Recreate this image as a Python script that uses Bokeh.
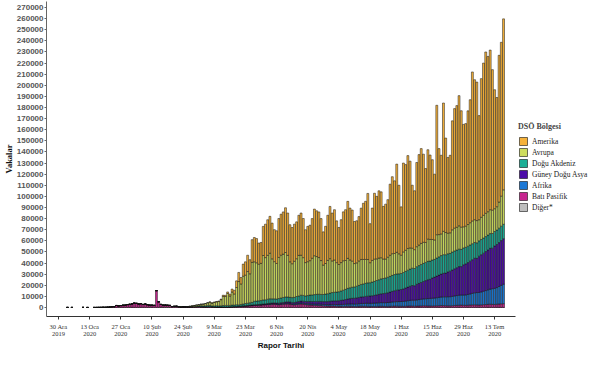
import pandas as pd
from bokeh.plotting import figure
from bokeh.layouts import row
from bokeh.models import (Range1d, FixedTicker, Legend, LegendItem,
                          NumeralTickFormatter, ColumnDataSource)
from bokeh.embed import file_html
from bokeh.resources import INLINE

# ---------------- data ----------------
region_names = ["Amerika", "Avrupa", "Doğu Akdeniz", "Güney Doğu Asya",
                "Afrika", "Batı Pasifik", "Diğer*"]
region_keys = ["amr", "eur", "emr", "sear", "afr", "wp", "diger"]
region_colors = ["#F6B23A", "#CEDD5E", "#1BAF96", "#4C0CA8",
                 "#1B78D6", "#C7258F", "#BEBEBE"]

tick_labels = ["30 Ara\n2019", "13 Oca\n2020", "27 Oca\n2020", "10 Şub\n2020",
               "24 Şub\n2020", "9 Mar\n2020", "23 Mar\n2020", "6 Nis\n2020",
               "20 Nis\n2020", "4 May\n2020", "18 May\n2020", "1 Haz\n2020",
               "15 Haz\n2020", "29 Haz\n2020", "13 Tem\n2020"]
first_tick = "2019-12-30"

# Western Pacific: a few isolated early reports, then daily from 15 Jan
wp_early_dates = ["2020-01-03", "2020-01-05", "2020-01-10", "2020-01-12"]
wp_early = [27, 17, 41, 2]
wp_start = "2020-01-15"
wp = [4, 17, 59, 77, 149, 131, 259, 444, 688, 769, 1771, 1459, 1737, 1982, 2102, 2590,
      2829, 3235, 3887, 3694, 3143, 3385, 2656, 3062, 2484, 2022, 2015, 1820, 15153, 5094,
      2644, 2009, 2051, 1891, 1751, 825, 1000, 1100, 650, 450, 530, 500, 430, 500, 580, 600,
      # March
      700, 800, 700, 600, 550, 650, 700, 600, 450, 400, 350, 330, 350, 400, 380, 420,
      500, 600, 650, 800, 900, 1100, 1200, 1300, 1500, 1600, 1800, 1900, 2000, 2100, 2300,
      # April
      2400, 2600, 2700, 2900, 3000, 2700, 2500, 2800, 2900, 3100, 3200, 3000, 2600, 2400, 2700,
      2900, 3200, 3000, 2600, 2400, 2300, 2100, 2000, 1900, 1800, 1700, 1500, 1400, 1300, 1300,
      # May
      1250, 1200, 1100, 1000, 1000, 950, 1000, 1100, 1050, 1000, 900, 950, 1000, 1100, 1000,
      1050, 950, 900, 850, 900, 950, 1000, 1050, 1000, 900, 950, 1000, 1100, 1200, 1150, 1100,
      # June
      1050, 1000, 1100, 1200, 1300, 1250, 1150, 1200, 1300, 1400, 1500, 1450, 1400, 1350, 1300,
      1400, 1500, 1600, 1700, 1650, 1600, 1550, 1500, 1600, 1800, 1900, 2000, 2100, 2000, 1900,
      # July
      2000, 2200, 2300, 2400, 2300, 2200, 2300, 2500, 2600, 2800, 2900, 2800, 2700, 2900, 3100,
      3300, 3400]

diger_start = "2020-02-04"
diger = [10, 10, 41, 3, 6, 65, 0, 39, 0, 44, 67, 70, 99, 88, 79, 13, 0, 0, 57, 0, 0, 14]

afr_start = "2020-02-28"
afr = [1, 0,
       1, 2, 1, 2, 3, 5, 4, 6, 8, 10, 15, 20, 25, 30, 40, 50, 60, 80, 100, 120,
       150, 180, 200, 230, 250, 270, 280, 300, 320, 330, 350,
       380, 400, 420, 430, 450, 470, 500, 520, 560, 600, 620, 640, 660, 700, 750,
       800, 820, 850, 870, 900, 950, 1000, 1050, 1100, 1150, 1200, 1200, 1250, 1300, 1350,
       1450, 1500, 1550, 1600, 1700, 1800, 1900, 2000, 2100, 2200, 2200, 2300, 2400, 2500, 2600,
       2700, 2800, 2800, 2900, 3000, 3100, 3200, 3300, 3300, 3400, 3500, 3600, 3800, 3900, 4100, 4200,
       4300, 4500, 4700, 4900, 5100, 5300, 5400, 5600, 5800, 6000, 6200, 6400, 6600, 6800, 7000,
       7100, 7300, 7500, 7700, 7900, 8000, 8100, 8200, 8400, 8600, 8800, 9000, 9100, 9200, 9400,
       9700, 10000, 10400, 10800, 11100, 11300, 11700, 12100, 12600, 13100, 13600, 14100, 14500,
       15000, 15800, 16600, 17500]

sear_start = "2020-02-29"
sear = [1,
        2, 3, 2, 20, 5, 8, 10, 12, 15, 20, 20, 25, 30, 35, 40, 50, 60, 70, 80, 100,
        120, 140, 160, 180, 220, 250, 300, 320, 350, 380, 420,
        480, 550, 600, 620, 680, 750, 850, 950, 1050, 1150, 1200, 1250, 1300, 1400, 1500,
        1600, 1700, 1800, 1900, 2000, 2100, 2200, 2300, 2400, 2450, 2500, 2550, 2600, 2700, 2900,
        3100, 3200, 3300, 3500, 3700, 3900, 4200, 4500, 4800, 5000, 5200, 5400, 5600, 5800, 6000,
        6200, 6400, 6600, 6800, 7000, 7300, 7600, 7900, 8200, 8500, 8800, 9200, 9600, 10000, 10300, 10500,
        10800, 11200, 11700, 12200, 12700, 13200, 13000, 14100, 14600, 15100, 15700, 16300, 17000, 17200, 18200,
        18800, 19400, 20000, 20600, 21200, 21300, 22400, 23000, 23700, 24400, 25100, 25800, 25600, 27200, 27900,
        28700, 29500, 30300, 31100, 30800, 32700, 33500, 34300, 35100, 35900, 36700, 36500, 38100,
        38800, 39500, 40300, 41000]

emr_start = "2020-02-20"
emr = [2, 5, 15, 30, 45, 70, 110, 140, 190, 280,
       400, 600, 800, 700, 900, 1200, 1100, 700, 900, 1100, 1000, 1100, 1300, 1400, 1400, 1300,
       1500, 1400, 1600, 1300, 1500, 1700, 2000, 2100, 2300, 2500, 3200, 3200, 3300, 3400, 3700,
       3600, 3900, 4100, 3800, 3600, 3700, 4200, 4300, 4500, 4600, 4400, 4200, 4300, 4600, 4900,
       5100, 5300, 5200, 5000, 5400, 5800, 6000, 6200, 6400, 6500, 6300, 6400, 6800, 7100, 7400,
       7600, 7800, 7900, 8100, 8500, 8900, 9200, 9600, 9800, 10000, 10200, 10500, 10900, 11300, 11600,
       11800, 12000, 12000, 12300, 12600, 12900, 13200, 13500, 13600, 13800, 14000, 14200, 14400, 14500, 14600, 14500,
       14400, 14800, 15000, 15300, 15500, 15600, 15500, 15800, 16000, 16200, 16300, 16400, 16500, 16400, 16200,
       16000, 16300, 16500, 16700, 16800, 16600, 16300, 16000, 16200, 16100, 15900, 15700, 15500, 15200, 15000,
       14800, 14600, 14400, 14200, 14000, 13800, 13700, 13600, 13500, 13400, 13300, 13200, 13100,
       13000, 13000, 13000, 13000]

eur_start = "2020-02-21"
eur = [3, 20, 75, 150, 90, 300, 420, 650, 900,
       1100, 1100, 1400, 1700, 2000, 2300, 3000, 2600, 3200, 3500, 4000, 5500, 8300, 8000, 10700,
       8500, 11800, 10000, 15500, 21000, 18500, 25000, 25500, 28500, 26000, 36000, 35500, 34500,
       33000, 33500, 40000,
       38000, 39500, 41000, 36000, 33500, 32000, 37000, 38500, 39000, 40000, 37500, 32000, 30500,
       32500, 34000, 36500, 36000, 34000, 30000, 30500, 31000, 33000, 35000, 34000, 33000, 30500,
       26500, 27500, 30000, 31000,
       28500, 29000, 26500, 24500, 25500, 26500, 26000, 27000, 25000, 23500, 21000, 21000, 22000,
       22500, 22000, 21500, 21000, 18000, 19500, 20000, 19500, 19500, 19000, 17500, 17000, 18000,
       19000, 19500, 19000, 19500, 18000,
       16500, 18500, 19000, 19500, 19000, 18000, 17000, 18000, 18500, 19000, 19000, 18000, 20000,
       19500, 18500, 17500, 21000, 20000, 19500, 21000, 20000, 18500, 18500, 20000, 20500, 20500,
       21000, 20000, 19000, 19000,
       19500, 20000, 20500, 20500, 20000, 19000, 20000, 20500, 21000, 21000, 21500, 21000, 20500,
       21000, 23500, 27000, 31000]

amr_start = "2020-02-23"
amr = [2, 0, 1, 2, 5, 3, 8,
       10, 20, 30, 40, 60, 100, 120, 200, 250, 350, 400, 500, 1000, 1100, 1400, 1700, 2600, 3300,
       6000, 8200, 5800, 10900, 12000, 14700, 12700, 20400, 21900, 21800, 19000, 18800, 26200,
       30100, 32000, 33200, 32200, 28800, 29400, 35000, 36900, 38000, 40300, 38100, 33400, 32600,
       33400, 33200, 36100, 38000, 35200, 29600, 31800, 31900, 35700, 42000, 41200, 41100, 37800,
       29900, 33500, 40600, 47000,
       43100, 45300, 37600, 33300, 38600, 44000, 45700, 51300, 46700, 46000, 37900, 37900, 39900,
       46200, 50600, 52300, 59500, 35100, 47100, 59300, 56300, 60500, 59300, 47400, 49400, 51800,
       64000, 69300, 65400, 79400, 61700,
       43500, 80000, 77100, 83600, 78100, 56700, 53000, 75800, 81400, 85300, 79300, 66500, 80500,
       76000, 71800, 59200, 116500, 77400, 70800, 115500, 85000, 68200, 69800, 98100, 107600,
       109500, 117200, 104800, 92200, 92300,
       102300, 110700, 134100, 126000, 124700, 93700, 124800, 137000, 145200, 139800, 143700,
       126500, 107100, 98300, 132100, 138500, 153900]

# ---------------- assemble ----------------
def daily(start, values):
    return pd.Series(values, index=pd.date_range(start, periods=len(values), freq="D"), dtype=float)

cols = {
    "diger": daily(diger_start, diger),
    "wp": pd.concat([pd.Series(wp_early, index=pd.to_datetime(wp_early_dates), dtype=float),
                     daily(wp_start, wp)]),
    "afr": daily(afr_start, afr),
    "sear": daily(sear_start, sear),
    "emr": daily(emr_start, emr),
    "eur": daily(eur_start, eur),
    "amr": daily(amr_start, amr),
}
df = pd.DataFrame(cols).fillna(0).sort_index()
df.index.name = "date"
source = ColumnDataSource(df.reset_index())

stack_keys = region_keys[::-1]          # bottom -> top
stack_colors = region_colors[::-1]

DAY_MS = 86400000
p = figure(width=517, height=352, x_axis_type="datetime",
           output_backend="svg", toolbar_location=None,
           x_range=Range1d(pd.Timestamp("2019-12-24 14:00"), pd.Timestamp("2020-07-22 09:00")),
           y_range=Range1d(-8150, 275440),
           min_border_left=0, min_border_right=2, min_border_top=1, min_border_bottom=0)

renderers = p.vbar_stack(stack_keys, x="date", width=0.86 * DAY_MS, source=source,
                         fill_color=stack_colors, line_color="#111111", line_width=0.5)

p.outline_line_color = None
p.xgrid.visible = False
p.ygrid.visible = False
p.background_fill_color = "white"

# x axis
tick_dates = pd.date_range(first_tick, periods=len(tick_labels), freq="14D")
tick_ms = [float(t.value // 10**6) for t in tick_dates]
p.xaxis.ticker = FixedTicker(ticks=tick_ms)
p.xaxis.major_label_overrides = {ms: lab for ms, lab in zip(tick_ms, tick_labels)}
p.xaxis.major_label_text_font = "Liberation Serif"
p.xaxis.major_label_text_font_size = "6.5px"
p.xaxis.major_label_text_line_height = 1.0
p.xaxis.major_label_text_color = "#333333"
p.xaxis.major_label_standoff = 3
p.xaxis.major_tick_out = 3
p.xaxis.major_tick_in = 0
p.xaxis.minor_tick_line_color = None
p.xaxis.axis_line_color = "#333333"
p.xaxis.major_tick_line_color = "#333333"
p.xaxis.axis_label = "Rapor Tarihi"
p.xaxis.axis_label_text_font = "Liberation Sans"
p.xaxis.axis_label_text_font_style = "bold"
p.xaxis.axis_label_text_font_size = "8px"
p.xaxis.axis_label_text_line_height = 1.0
p.xaxis.axis_label_text_color = "#111111"
p.xaxis.axis_label_standoff = 1

# y axis
p.yaxis.ticker = FixedTicker(ticks=list(range(0, 270001, 10000)))
p.yaxis.formatter = NumeralTickFormatter(format="0")
p.yaxis.major_label_text_font = "Liberation Sans"
p.yaxis.major_label_text_font_style = "bold"
p.yaxis.major_label_text_font_size = "8px"
p.yaxis.major_label_text_color = "#555555"
p.yaxis.major_label_standoff = 1
p.yaxis.major_tick_out = 2
p.yaxis.major_tick_in = 0
p.yaxis.minor_tick_line_color = None
p.yaxis.axis_line_color = "#666666"
p.yaxis.major_tick_line_color = "#666666"
p.yaxis.axis_label = "Vakalar"
p.yaxis.axis_label_text_font = "Liberation Serif"
p.yaxis.axis_label_text_font_style = "bold"
p.yaxis.axis_label_text_font_size = "8.5px"
p.yaxis.axis_label_text_color = "#111111"
p.yaxis.axis_label_standoff = 0

# ---------------- legend panel (separate narrow figure) ----------------
# The same stacked bars are drawn here through the same source, but the
# ranges keep them out of view; only their legend swatches are shown.
lp = figure(width=72, height=352, output_backend="svg", toolbar_location=None,
            x_axis_location=None, y_axis_location=None,
            x_range=Range1d(0, 1), y_range=Range1d(0, 1),
            min_border=0)
lp.outline_line_color = None
lp.xgrid.visible = False
lp.ygrid.visible = False
lp_renderers = lp.vbar_stack(stack_keys, x="date", width=0.86 * DAY_MS, source=source,
                             fill_color=stack_colors, line_color="#111111", line_width=0.6)
items = [LegendItem(label=name, renderers=[lp_renderers[stack_keys.index(key)]])
         for name, key in zip(region_names, region_keys)]
legend = Legend(items=items, location=(1, 104), title="DSÖ Bölgesi",
                title_text_font="Liberation Serif", title_text_font_style="bold",
                title_text_font_size="8px", title_standoff=5,
                label_text_font="Liberation Serif", label_text_font_size="7.5px",
                label_text_color="#222222",
                glyph_width=10, glyph_height=10, label_height=10, label_standoff=4,
                spacing=1, padding=0, margin=0,
                border_line_color=None, background_fill_alpha=0)
lp.add_layout(legend)

layout = row(p, lp)
open("out.html", "w").write(file_html(layout, INLINE))
